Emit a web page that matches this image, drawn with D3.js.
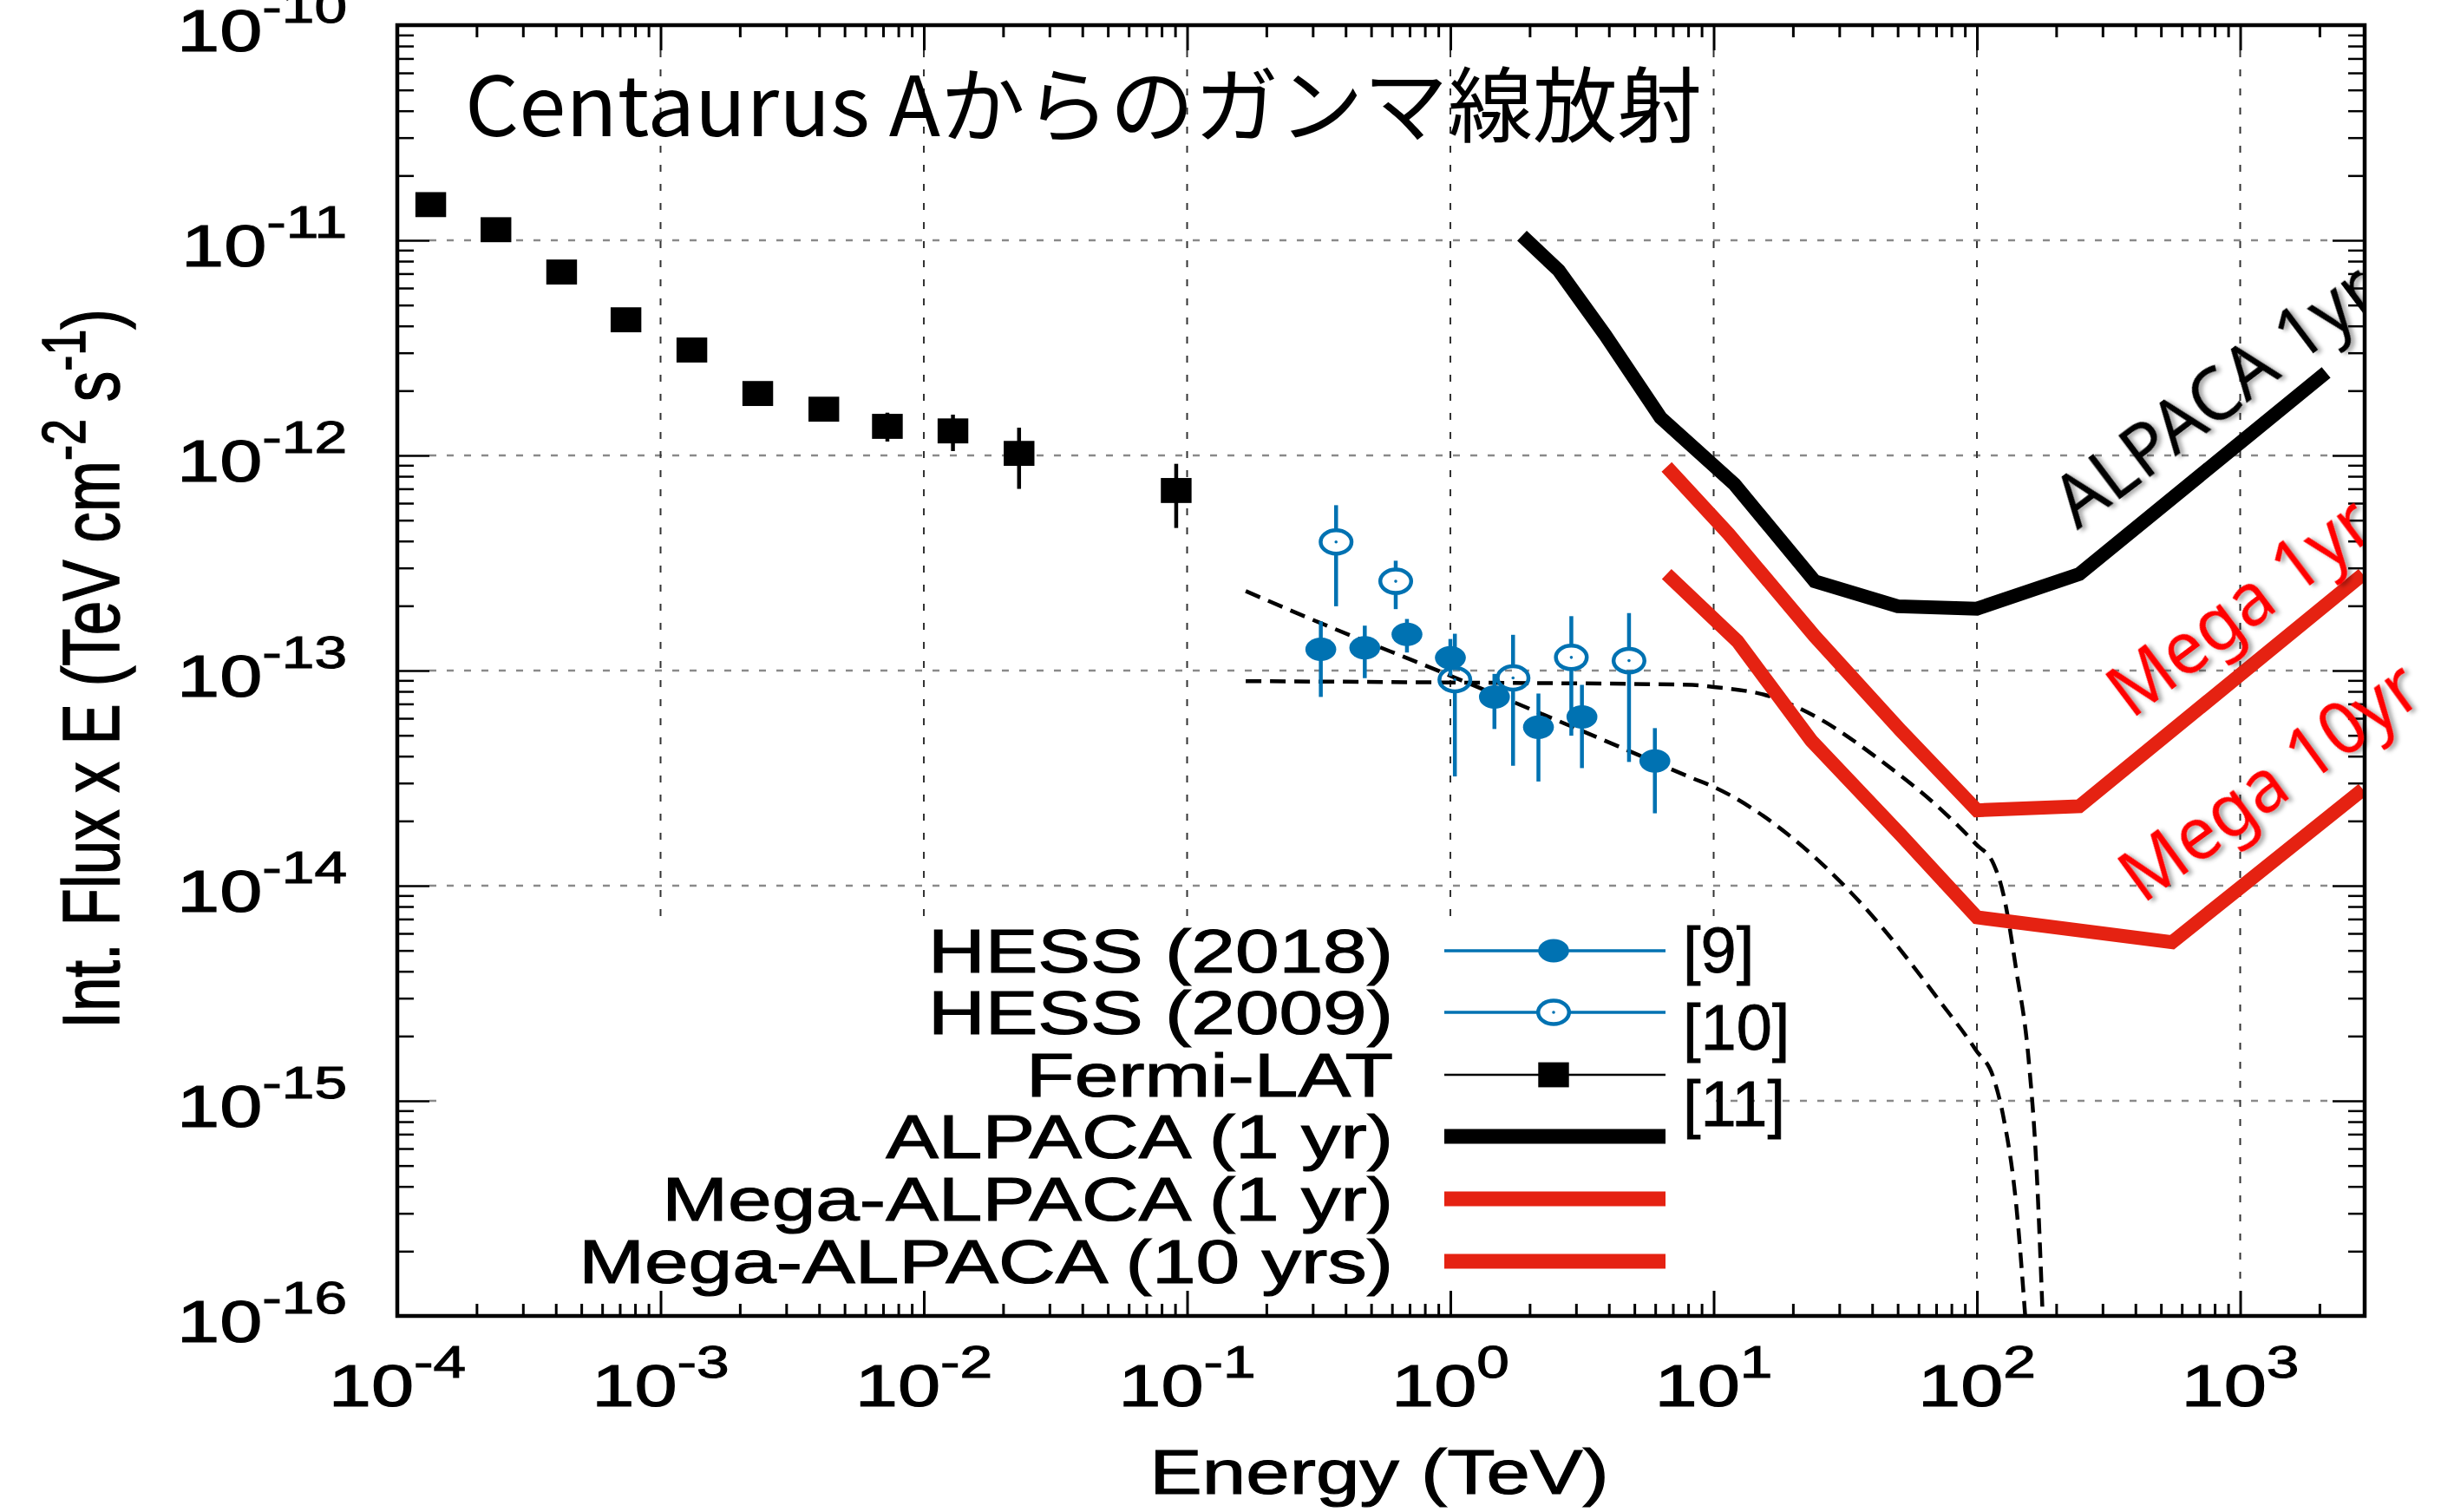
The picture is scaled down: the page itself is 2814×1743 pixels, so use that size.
<!DOCTYPE html>
<html><head><meta charset="utf-8">
<script src="https://cdn.jsdelivr.net/npm/d3@7"></script>
<style>body{margin:0;background:#fff}</style>
</head><body>
<svg id="c" width="2814" height="1743" xmlns="http://www.w3.org/2000/svg"></svg>
<script>
// ---------------- data ----------------
const fermiE  = [1.34e-4, 2.37e-4, 4.21e-4, 7.39e-4, 1.315e-3, 2.34e-3, 4.17e-3, 7.27e-3, 1.29e-2, 2.30e-2, 9.09e-2];
const fermiF  = [1.465e-11, 1.12e-11, 7.12e-12, 4.27e-12, 3.09e-12, 1.94e-12, 1.64e-12, 1.365e-12, 1.30e-12, 1.022e-12, 6.87e-13];
const fermiHi = [1.53e-11, 1.17e-11, 7.45e-12, 4.47e-12, 3.23e-12, 2.03e-12, 1.72e-12, 1.58e-12, 1.547e-12, 1.346e-12, 9.14e-13];
const fermiLo = [1.40e-11, 1.07e-11, 6.80e-12, 4.08e-12, 2.95e-12, 1.85e-12, 1.56e-12, 1.16e-12, 1.048e-12, 6.99e-13, 4.60e-13];

const hess18E  = [0.322, 0.473, 0.684, 1.00, 1.47, 2.16, 3.16, 5.98];
const hess18F  = [1.256e-13, 1.276e-13, 1.474e-13, 1.147e-13, 7.54e-14, 5.45e-14, 6.09e-14, 3.80e-14];
const hess18Hi = [1.694e-13, 1.617e-13, 1.737e-13, 1.402e-13, 9.65e-14, 7.82e-14, 8.58e-14, 5.40e-14];
const hess18Lo = [7.54e-14, 9.22e-14, 1.213e-13, 9.42e-14, 5.35e-14, 3.05e-14, 3.52e-14, 2.17e-14];

const hess09E  = [0.368, 0.620, 1.04, 1.73, 2.88, 4.77];
const hess09F  = [3.96e-13, 2.60e-13, 9.07e-14, 9.24e-14, 1.151e-13, 1.112e-13];
const hess09Hi = [5.87e-13, 3.24e-13, 1.483e-13, 1.466e-13, 1.79e-13, 1.85e-13];
const hess09Lo = [1.99e-13, 1.93e-13, 3.22e-14, 3.61e-14, 4.98e-14, 3.76e-14];

const alpacaE = [1.87, 2.58, 3.87, 6.28, 12.0, 24.2, 50.0, 100, 245, 2120];
const alpacaF = [1.05e-11, 7.24e-12, 3.63e-12, 1.50e-12, 7.34e-13, 2.60e-13, 1.99e-13, 1.94e-13, 2.81e-13, 2.43e-12];

const mega1E = [6.63, 11.4, 24.2, 51.4, 100, 245, 2925];
const mega1F = [8.84e-13, 4.31e-13, 1.445e-13, 5.25e-14, 2.24e-14, 2.34e-14, 2.80e-13];

const mega10E = [6.63, 12.3, 23.5, 51.4, 100, 551, 2925];
const mega10F = [2.81e-13, 1.37e-13, 4.72e-14, 1.72e-14, 7.13e-15, 5.46e-15, 2.80e-14];

const modelAE = [0.167, 0.295, 1.01, 5.23, 8.30, 10.0, 18.9, 37.3, 73.3, 98.8, 116, 126, 141, 153];
const modelAF = [2.34e-13, 1.737e-13, 9.41e-14, 4.03e-14, 3.16e-14, 2.88e-14, 1.754e-14, 7.98e-15, 2.84e-15, 1.73e-15, 1.263e-15, 8.43e-16, 3.28e-16, 9.5e-17];

const modelBE = [0.167, 1.01, 8.30, 10.0, 16.5, 24.8, 42.7, 73.3, 98.8, 116, 126, 141, 157, 168, 178];
const modelBF = [8.93e-14, 8.80e-14, 8.58e-14, 8.39e-14, 7.56e-14, 6.04e-14, 3.85e-14, 2.25e-14, 1.567e-14, 1.252e-14, 9.14e-15, 4.06e-15, 1.58e-15, 5.14e-16, 9.5e-17];

const xTickExp = [-4, -3, -2, -1, 0, 1, 2, 3];
const yTickExp = [-16, -15, -14, -13, -12, -11, -10];
const legendLabels = ["HESS (2018)", "HESS (2009)", "Fermi-LAT", "ALPACA (1 yr)", "Mega-ALPACA (1 yr)", "Mega-ALPACA (10 yrs)"];
const refLabels = ["[9]", "[10]", "[11]"];
const titleText = "Centaurus Aからのガンマ線放射";
const xTitle = "Energy (TeV)";
const curveLabels = ["ALPACA 1yr", "Mega 1yr", "Mega 10yr"];

// ---------------- setup ----------------
const L = 458, R = 2726, T = 29, B = 1517, SX = 1.3;
const BLUE = "#0072b2", RED = "#e52212";
const FONT = "'Liberation Sans', Arial, Helvetica, sans-serif";
const TS = 1.1; // text stroke to mimic heavier rendering
const svg = d3.select("#c");
svg.append("rect").attr("width", 2814).attr("height", 1743).attr("fill", "#fff");

const defs = svg.append("defs");
defs.append("clipPath").attr("id", "plot").append("rect")
  .attr("x", L).attr("y", T).attr("width", R - L).attr("height", B - T);
defs.append("clipPath").attr("id", "rightcut").append("rect")
  .attr("x", 0).attr("y", 0).attr("width", R - 2).attr("height", 1743);
const f = defs.append("filter").attr("id", "sh").attr("x", "-20%").attr("y", "-20%").attr("width", "140%").attr("height", "140%");
f.append("feDropShadow").attr("dx", 3).attr("dy", 4).attr("stdDeviation", 2.5)
  .attr("flood-color", "#000").attr("flood-opacity", 0.35);

const x = d3.scaleLog().domain([1e-4, 2970]).range([L, R]);
const y = d3.scaleLog().domain([1e-16, 1e-10]).range([B, T]);

const xMajor = xTickExp.map(e => Math.pow(10, e));
const yMajor = yTickExp.map(e => Math.pow(10, e));
const xMinor = [], yMinor = [];
for (let e = -4; e <= 3; e++) for (let m = 2; m <= 9; m++) { const v = m * Math.pow(10, e); if (v < 2970) xMinor.push(v); }
for (let e = -16; e <= -11; e++) for (let m = 2; m <= 9; m++) yMinor.push(m * Math.pow(10, e));

// ---------------- grid ----------------
const grid = svg.append("g");
grid.selectAll("line.hg").data(yMajor.slice(1, -1)).enter().append("line")
  .attr("x1", L + 37).attr("x2", R - 37).attr("y1", d => y(d)).attr("y2", d => y(d))
  .attr("stroke", "#8a8a8a").attr("stroke-width", 2.5).attr("stroke-dasharray", "8,12");
grid.selectAll("line.vg").data(xMajor.slice(1)).enter().append("line")
  .attr("x1", d => x(d)).attr("x2", d => x(d)).attr("y1", T + 29).attr("y2", B - 29)
  .attr("stroke", "#333").attr("stroke-width", 2).attr("stroke-dasharray", "8,14");

// legend background box (hides grid)
svg.append("rect").attr("x", 513).attr("y", 1059).attr("width", 1978 - 513).attr("height", B - 1059 - 2).attr("fill", "#fff");

// ---------------- data layer ----------------
const plot = svg.append("g").attr("clip-path", "url(#plot)");
const lineGen = d3.line().x(d => x(d[0])).y(d => y(d[1]));
const smooth = d3.line().x(d => x(d[0])).y(d => y(d[1])).curve(d3.curveMonotoneX);
const zip = (a, b) => a.map((v, i) => [v, b[i]]);

// dashed models
plot.append("path").attr("d", smooth(zip(modelAE, modelAF))).attr("fill", "none")
  .attr("stroke", "#000").attr("stroke-width", 4.5).attr("stroke-dasharray", "18,10");
plot.append("path").attr("d", smooth(zip(modelBE, modelBF))).attr("fill", "none")
  .attr("stroke", "#000").attr("stroke-width", 4.5).attr("stroke-dasharray", "18,10");

// sensitivity curves
[[mega10E, mega10F, RED], [mega1E, mega1F, RED], [alpacaE, alpacaF, "#000"]].forEach(([E, F, c]) => {
  plot.append("path").attr("d", lineGen(zip(E, F))).attr("fill", "none")
    .attr("stroke", c).attr("stroke-width", 16).attr("stroke-linejoin", "miter").attr("stroke-linecap", "butt");
});

// Fermi
const RX = 17.8, RY = 13.5;
fermiE.forEach((e, i) => {
  plot.append("line").attr("x1", x(e)).attr("x2", x(e)).attr("y1", y(fermiHi[i])).attr("y2", y(fermiLo[i]))
    .attr("stroke", "#000").attr("stroke-width", 4.5);
  plot.append("rect").attr("x", x(e) - 17.7).attr("y", y(fermiF[i]) - 14.4).attr("width", 35.4).attr("height", 28.8).attr("fill", "#000");
});
// HESS 2009 (open)
hess09E.forEach((e, i) => {
  const cx = x(e), cy = y(hess09F[i]);
  plot.append("line").attr("x1", cx).attr("x2", cx).attr("y1", y(hess09Hi[i])).attr("y2", cy - RY)
    .attr("stroke", BLUE).attr("stroke-width", 4.5);
  plot.append("line").attr("x1", cx).attr("x2", cx).attr("y1", cy + RY).attr("y2", y(hess09Lo[i]))
    .attr("stroke", BLUE).attr("stroke-width", 4.5);
  plot.append("ellipse").attr("cx", cx).attr("cy", cy).attr("rx", RX).attr("ry", RY)
    .attr("fill", "none").attr("stroke", BLUE).attr("stroke-width", 4.5);
  plot.append("circle").attr("cx", cx).attr("cy", cy).attr("r", 1.8).attr("fill", BLUE);
});
// HESS 2018 (filled)
hess18E.forEach((e, i) => {
  const cx = x(e), cy = y(hess18F[i]);
  plot.append("line").attr("x1", cx).attr("x2", cx).attr("y1", y(hess18Hi[i])).attr("y2", y(hess18Lo[i]))
    .attr("stroke", BLUE).attr("stroke-width", 4.5);
  plot.append("ellipse").attr("cx", cx).attr("cy", cy).attr("rx", RX).attr("ry", RY).attr("fill", BLUE);
});

// ---------------- axes (ticks) ----------------
function axis(gen, tf, vals, size, sw) {
  const g = svg.append("g").attr("transform", tf)
    .call(gen.tickValues(vals).tickSize(size).tickSizeOuter(0).tickFormat(""));
  g.select(".domain").remove();
  g.selectAll("line").attr("stroke", "#000").attr("stroke-width", sw);
}
axis(d3.axisBottom(x), `translate(0,${B})`, xMajor, -29, 3);
axis(d3.axisBottom(x), `translate(0,${B})`, xMinor, -14, 3);
axis(d3.axisTop(x), `translate(0,${T})`, xMajor, -29, 3);
axis(d3.axisTop(x), `translate(0,${T})`, xMinor, -14, 3);
axis(d3.axisLeft(y), `translate(${L},0)`, yMajor, -37, 2.5);
axis(d3.axisLeft(y), `translate(${L},0)`, yMinor, -19, 2.5);
axis(d3.axisRight(y), `translate(${R},0)`, yMajor, -37, 2.5);
axis(d3.axisRight(y), `translate(${R},0)`, yMinor, -19, 2.5);

svg.append("rect").attr("x", L).attr("y", T).attr("width", R - L).attr("height", B - T)
  .attr("fill", "none").attr("stroke", "#000").attr("stroke-width", 4.5);

// tick labels
function powLabel(gx, gy, exp, anchor) {
  const t = svg.append("g").attr("transform", `translate(${gx},${gy}) scale(${SX},1)`)
    .append("text").attr("text-anchor", anchor).attr("font-family", FONT).attr("fill", "#000")
    .attr("stroke", "#000").attr("stroke-width", TS);
  t.append("tspan").attr("font-size", 68).text("10");
  t.append("tspan").attr("font-size", 52).attr("dy", -33).text(String(exp));
}
xTickExp.forEach(e => powLabel(x(Math.pow(10, e)), 1621, e, "middle"));
yTickExp.forEach(e => powLabel(400, y(Math.pow(10, e)) + 30, e, "end"));

// axis titles
svg.append("g").attr("transform", `translate(1590,1722) scale(1.26,1)`)
  .append("text").attr("text-anchor", "middle").attr("font-family", FONT).attr("font-size", 72)
  .attr("stroke", "#000").attr("stroke-width", TS).text(xTitle);

const yt = svg.append("g").attr("transform", `translate(137,771) scale(${SX},1) rotate(-90)`)
  .append("text").attr("text-anchor", "middle").attr("font-family", FONT).attr("font-size", 71)
  .attr("stroke", "#000").attr("stroke-width", TS);
yt.append("tspan").text("Int. Flux x E (TeV cm");
yt.append("tspan").attr("font-size", 54).attr("dy", -30).text("-2");
yt.append("tspan").attr("dy", 30).text(" s");
yt.append("tspan").attr("font-size", 54).attr("dy", -30).text("-1");
yt.append("tspan").attr("dy", 30).text(")");

// ---------------- legend ----------------
const rowY = [1096, 1167, 1239, 1310, 1382, 1454];
const LX1 = 1665, LX2 = 1920, LM = 1791;
legendLabels.forEach((lab, i) => {
  svg.append("g").attr("transform", `translate(1606,${rowY[i] + 25}) scale(${SX},1)`)
    .append("text").attr("text-anchor", "end").attr("font-family", FONT).attr("font-size", 70)
    .attr("stroke", "#000").attr("stroke-width", TS).text(lab);
});
// HESS 2018
svg.append("line").attr("x1", LX1).attr("x2", LX2).attr("y1", rowY[0]).attr("y2", rowY[0]).attr("stroke", BLUE).attr("stroke-width", 3.5);
svg.append("ellipse").attr("cx", LM).attr("cy", rowY[0]).attr("rx", RX).attr("ry", RY).attr("fill", BLUE);
// HESS 2009
svg.append("line").attr("x1", LX1).attr("x2", LM - RX).attr("y1", rowY[1]).attr("y2", rowY[1]).attr("stroke", BLUE).attr("stroke-width", 3.5);
svg.append("line").attr("x1", LM + RX).attr("x2", LX2).attr("y1", rowY[1]).attr("y2", rowY[1]).attr("stroke", BLUE).attr("stroke-width", 3.5);
svg.append("ellipse").attr("cx", LM).attr("cy", rowY[1]).attr("rx", RX).attr("ry", RY).attr("fill", "none").attr("stroke", BLUE).attr("stroke-width", 4.5);
svg.append("circle").attr("cx", LM).attr("cy", rowY[1]).attr("r", 1.8).attr("fill", BLUE);
// Fermi
svg.append("line").attr("x1", LX1).attr("x2", LX2).attr("y1", rowY[2]).attr("y2", rowY[2]).attr("stroke", "#000").attr("stroke-width", 2.5);
svg.append("rect").attr("x", LM - 17.7).attr("y", rowY[2] - 14.4).attr("width", 35.4).attr("height", 28.8).attr("fill", "#000");
// thick lines
[["#000", 3], [RED, 4], [RED, 5]].forEach(([c, r]) => {
  svg.append("line").attr("x1", LX1).attr("x2", LX2).attr("y1", rowY[r]).attr("y2", rowY[r]).attr("stroke", c).attr("stroke-width", 17);
});
// references
const refBase = [1121, 1210, 1298];
refLabels.forEach((r, i) => {
  svg.append("text").attr("x", 1940).attr("y", refBase[i]).attr("font-family", FONT).attr("font-size", 74)
    .attr("stroke", "#000").attr("stroke-width", 0.8).text(r);
});

// ---------------- overlay texts ----------------
svg.append("text").attr("x", 536).attr("y", 157).attr("font-family", "'Noto Sans CJK JP', 'Noto Sans', sans-serif")
  .attr("font-size", 95).attr("textLength", 1426).attr("lengthAdjust", "spacingAndGlyphs").text(titleText);

const ov = [
  {t: curveLabels[0], x: 2395, y: 612, a: -37, c: "#000", len: 441, clip: true},
  {t: curveLabels[1], x: 2457, y: 830, a: -37, c: "#ff0000", len: 357, clip: true},
  {t: curveLabels[2], x: 2470, y: 1043, a: -36, c: "#ff0000", len: 404, clip: false}
];
ov.forEach(o => {
  const g = svg.append("g");
  if (o.clip) g.attr("clip-path", "url(#rightcut)");
  g.append("text").attr("transform", `translate(${o.x},${o.y}) rotate(${o.a})`)
    .attr("font-family", "'Noto Sans', 'Open Sans', sans-serif").attr("font-size", 84)
    .attr("textLength", o.len).attr("lengthAdjust", "spacingAndGlyphs")
    .attr("fill", o.c).attr("filter", "url(#sh)").text(o.t);
});
</script>
</body></html>
